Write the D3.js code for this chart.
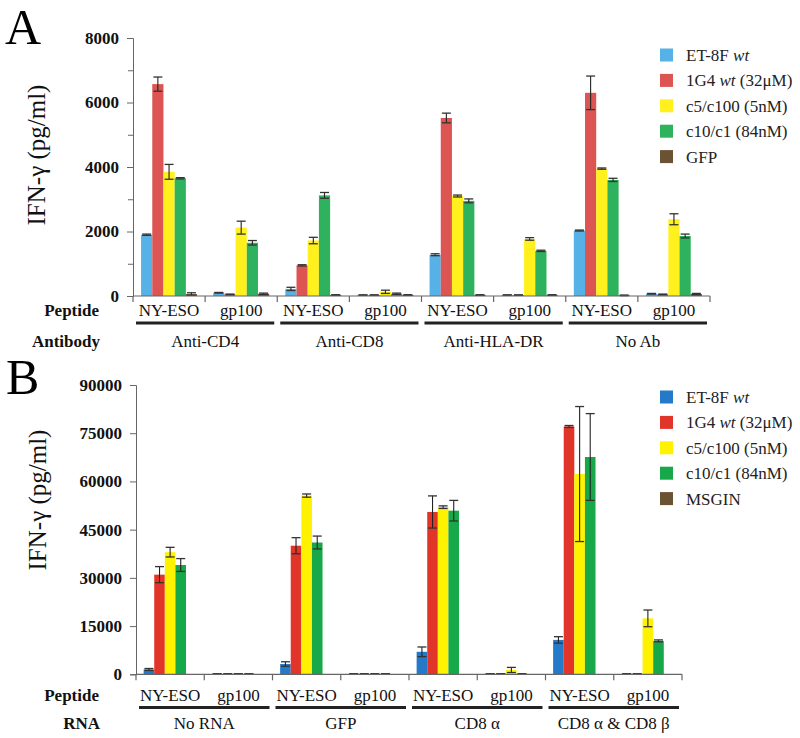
<!DOCTYPE html>
<html><head><meta charset="utf-8">
<script src="https://cdn.jsdelivr.net/npm/d3@7"></script>
<style>body{margin:0;background:#fff}svg{display:block}</style>
</head><body><svg id="c" width="800" height="738"></svg>
<script>
// ---------- DATA ----------
const peptides = ["NY-ESO", "gp100"];
const groupsA = ["Anti-CD4", "Anti-CD8", "Anti-HLA-DR", "No Ab"];
const groupsB = ["No RNA", "GFP", "CD8 α", "CD8 α & CD8 β"];
const seriesNamesA = ["ET-8F |wt|", "1G4 |wt| (32μM)", "c5/c100 (5nM)", "c10/c1 (84nM)", "GFP"];
const seriesNamesB = ["ET-8F |wt|", "1G4 |wt| (32μM)", "c5/c100 (5nM)", "c10/c1 (84nM)", "MSGIN"];
const colorsA = ["#55b1e6", "#dc5552", "#fff01e", "#2fb25d", "#6b5232"];
const colorsB = ["#2479c8", "#e2352a", "#fff200", "#17a84a", "#6b5232"];
const ticksA = [0, 2000, 4000, 6000, 8000];
const minorTicksA = [1000, 3000, 5000, 7000];
const ticksB = [0, 15000, 30000, 45000, 60000, 75000, 90000];

// values: order = group1 NY-ESO, group1 gp100, group2 NY-ESO, ...
const et8fA   = [1900, 100, 220, 30, 1280, 30, 2030, 70];
const g4A     = [6570, 50, 950, 30, 5520, 30, 6300, 50];
const c5A     = [3850, 2120, 1720, 130, 3100, 1770, 3950, 2380];
const c10A    = [3650, 1650, 3120, 70, 2950, 1400, 3600, 1860];
const gfpA    = [60, 70, 30, 30, 30, 30, 20, 60];
const et8fErrA = [20, 10, 50, 5, 30, 5, 15, 10];
const g4ErrA   = [220, 10, 20, 5, 150, 5, 520, 10];
const c5ErrA   = [230, 200, 100, 50, 30, 40, 20, 170];
const c10ErrA  = [20, 70, 90, 20, 60, 20, 50, 60];
const gfpErrA  = [40, 20, 10, 10, 10, 10, 10, 20];

const et8fB   = [1500, 100, 3200, 100, 7000, 100, 10700, 100];
const g4B     = [31000, 100, 40000, 100, 50500, 100, 77100, 100];
const c5B     = [38000, 100, 55600, 100, 52000, 1350, 62300, 17400];
const c10B    = [34000, 100, 41000, 100, 50900, 100, 67600, 10400];
const msginB  = [0, 0, 0, 0, 0, 0, 0, 0];
const et8fErrB = [300, 100, 700, 100, 1500, 100, 1000, 100];
const g4ErrB   = [2500, 100, 2500, 100, 5000, 100, 300, 100];
const c5ErrB   = [1500, 100, 500, 100, 400, 800, 21000, 2600];
const c10ErrB  = [2000, 100, 2000, 100, 3200, 100, 13500, 300];
const msginErrB = [0, 0, 0, 0, 0, 0, 0, 0];

// ---------- DRAW ----------
const FONT = '"Liberation Serif", "Times New Roman", serif';
const svg = d3.select("#c");

function txt(g, x, y, size, s) {
  return g.append("text").attr("x", x).attr("y", y).style("font-family", FONT)
    .style("font-size", size + "px").attr("fill", "#111").text(s);
}

function panel(cfg) {
  const g = svg.append("g");
  const cats = [];
  cfg.groups.forEach(gr => peptides.forEach(p => cats.push(gr + "|" + p)));
  const x = d3.scaleBand().domain(cats).range([cfg.x0, cfg.x1]).padding(0);
  const inner = d3.scaleBand().domain(d3.range(cfg.series.length)).range([0, x.bandwidth()])
    .paddingInner(0).paddingOuter(0.72);
  const y = d3.scaleLinear().domain(cfg.domain).range([cfg.yBottom, cfg.yTop]);

  // panel letter
  txt(g, cfg.letterX, cfg.letterY, 50, cfg.letter).attr("fill", "#000");

  // y axis
  const yAx = g.append("g").attr("transform", `translate(${cfg.x0},0)`)
    .call(d3.axisLeft(y).tickValues(cfg.ticks).tickSize(6).tickPadding(8).tickFormat(d3.format("d")));
  yAx.select(".domain").attr("stroke", "#666");
  yAx.selectAll(".tick line").attr("stroke", "#666");
  yAx.selectAll("text").style("font-family", FONT).style("font-size", "17px")
    .style("font-weight", "bold").attr("fill", "#111");
  if (cfg.minor) {
    g.append("g").attr("transform", `translate(${cfg.x0},0)`)
      .call(d3.axisLeft(y).tickValues(cfg.minor).tickSize(5).tickFormat(""))
      .call(s => { s.select(".domain").remove(); s.selectAll("line").attr("stroke", "#666"); });
  }

  // bars
  cfg.series.forEach((vals, si) => {
    const errs = cfg.errors[si];
    cats.forEach((c, ci) => {
      const v = vals[ci];
      const bx = x(c) + inner(si);
      const bw = inner.bandwidth();
      if (v > 0) {
        g.append("rect").attr("x", bx).attr("y", y(v)).attr("width", bw)
          .attr("height", y(0) - y(v)).attr("fill", cfg.colors[si]);
      }
      const e = errs[ci];
      if (e > 0) {
        const cx = bx + bw / 2;
        const lo = Math.max(0, v - e), hi = v + e;
        g.append("line").attr("x1", cx).attr("x2", cx).attr("y1", y(lo)).attr("y2", y(hi))
          .attr("stroke", "#222").attr("stroke-width", 1.1);
        [lo, hi].forEach(t => g.append("line").attr("x1", cx - 4.5).attr("x2", cx + 4.5)
          .attr("y1", y(t)).attr("y2", y(t)).attr("stroke", "#333").attr("stroke-width", 1.3));
      }
    });
  });

  // x axis baseline
  g.append("line").attr("x1", cfg.x0).attr("x2", cfg.x1).attr("y1", y(0)).attr("y2", y(0))
    .attr("stroke", "#666").attr("stroke-width", 1.2);
  const bounds = cats.map(c => x(c)).concat([cfg.x1]);
  bounds.forEach(bx => g.append("line").attr("x1", bx).attr("x2", bx)
    .attr("y1", y(0)).attr("y2", y(0) + 6).attr("stroke", "#666").attr("stroke-width", 1.2));

  // peptide labels
  cats.forEach(c => txt(g, x(c) + x.bandwidth() / 2, cfg.pepY, 17, c.split("|")[1])
    .attr("text-anchor", "middle"));
  txt(g, 99, cfg.pepY, 17, "Peptide").attr("text-anchor", "end").style("font-weight", "bold");
  txt(g, 100, cfg.grpY, 17, cfg.grpTitle).attr("text-anchor", "end").style("font-weight", "bold");

  // group underline + labels
  cfg.groups.forEach(gr => {
    const a = x(gr + "|" + peptides[0]), b = x(gr + "|" + peptides[1]) + x.bandwidth();
    g.append("line").attr("x1", a + 3).attr("x2", b - 3).attr("y1", cfg.lineY).attr("y2", cfg.lineY)
      .attr("stroke", "#222").attr("stroke-width", 3);
    txt(g, (a + b) / 2, cfg.grpY, 17, gr).attr("text-anchor", "middle");
  });

  // y label
  txt(g, 0, 0, 25, "IFN-γ (pg/ml)").attr("x", null).attr("y", null)
    .attr("transform", `translate(${cfg.ylabX},${cfg.ylabY}) rotate(-90)`)
    .attr("text-anchor", "middle");

  // legend
  cfg.names.forEach((n, i) => {
    const ly = cfg.legY + i * 25.4;
    g.append("rect").attr("x", 660).attr("y", ly - 6.5).attr("width", 13).attr("height", 13)
      .attr("fill", cfg.colors[i]);
    const t = txt(g, 686, ly + 6, 17, "").attr("fill", "#222");
    n.split("|").forEach((part, k) => {
      if (part) t.append("tspan").style("font-style", k % 2 ? "italic" : "normal").text(part);
    });
  });
}

panel({
  letter: "A", letterX: 5, letterY: 44,
  groups: groupsA, names: seriesNamesA, colors: colorsA,
  series: [et8fA, g4A, c5A, c10A, gfpA],
  errors: [et8fErrA, g4ErrA, c5ErrA, c10ErrA, gfpErrA],
  domain: [0, 8000], ticks: ticksA, minor: minorTicksA,
  x0: 133, x1: 710, yBottom: 296, yTop: 38,
  pepY: 316, lineY: 323, grpY: 347, grpTitle: "Antibody",
  ylabX: 45, ylabY: 155, legY: 55
});

panel({
  letter: "B", letterX: 6, letterY: 394,
  groups: groupsB, names: seriesNamesB, colors: colorsB,
  series: [et8fB, g4B, c5B, c10B, msginB],
  errors: [et8fErrB, g4ErrB, c5ErrB, c10ErrB, msginErrB],
  domain: [0, 90000], ticks: ticksB, minor: null,
  x0: 136, x1: 682, yBottom: 674.3, yTop: 385,
  pepY: 701, lineY: 707.5, grpY: 729, grpTitle: "RNA",
  ylabX: 46, ylabY: 500, legY: 397
});
</script></body></html>
